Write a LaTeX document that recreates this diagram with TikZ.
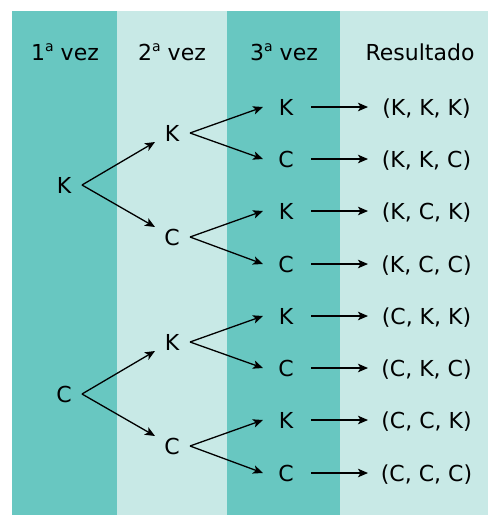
\documentclass[tikz,border=0pt]{standalone}
\usepackage{fontspec}
\setmainfont{DejaVu Sans}
\usetikzlibrary{arrows.meta,calc}
\definecolor{darkteal}{HTML}{68C7C1}
\definecolor{lightteal}{HTML}{C8E9E6}
\newcommand{\ordA}{\raisebox{8.4pt}{\fontsize{14}{14}\selectfont a}}
\begin{document}
\begin{tikzpicture}[x=1pt,y=-1pt,
  lbl/.style={inner sep=0pt,font=\fontsize{22}{26}\selectfont,text height=16pt,text depth=0pt},
  arr/.style={-{Stealth[length=10pt,width=8.5pt,inset=2.5pt]},line width=1.3pt}]
\useasboundingbox (0,0) rectangle (488,515);
\fill[darkteal] (12,11) rectangle (117,515);
\fill[lightteal] (117,11) rectangle (227,515);
\fill[darkteal] (227,11) rectangle (340,515);
\fill[lightteal] (340,11) rectangle (488,515);
% headers
\node[lbl] (h1) at (65,52) {1\ordA{} vez};
\node[lbl] (h2) at (172,52) {2\ordA{} vez};
\node[lbl] (h3) at (284,52) {3\ordA{} vez};
\node[lbl] (h4) at (420,52) {Resultado};
% level 1
\node[lbl] (a1) at (64,185) {K};
\node[lbl] (a2) at (64,394) {C};
% level 2
\node[lbl] (b1) at (172,133) {K};
\node[lbl] (b2) at (172,237) {C};
\node[lbl] (b3) at (172,342) {K};
\node[lbl] (b4) at (172,446) {C};
% level 3 and results
\foreach \i/\y/\t/\r in {1/107/K/{(K, K, K)},2/159/C/{(K, K, C)},3/211/K/{(K, C, K)},4/264/C/{(K, C, C)},5/316/K/{(C, K, K)},6/368/C/{(C, K, C)},7/420/K/{(C, C, K)},8/473/C/{(C, C, C)}}{
  \node[lbl] (c\i) at (286,\y) {\t};
  \node[lbl] (r\i) at (426.5,\y) {\r};
  \draw[arr] ($(c\i.center)+(25,0)$) -- ($(c\i.center)+(82,0)$);
}
% level 1 -> level 2
\draw[arr] ($(a1.center)+(18,0)$) -- ($(b1.center)+(-17,9)$);
\draw[arr] ($(a1.center)+(18,0)$) -- ($(b2.center)+(-17,-10)$);
\draw[arr] ($(a2.center)+(18,0)$) -- ($(b3.center)+(-17,9)$);
\draw[arr] ($(a2.center)+(18,0)$) -- ($(b4.center)+(-17,-10)$);
% level 2 -> level 3
\draw[arr] ($(b1.center)+(18,0)$) -- ($(c1.center)+(-23,0)$);
\draw[arr] ($(b1.center)+(18,0)$) -- ($(c2.center)+(-23,0)$);
\draw[arr] ($(b2.center)+(18,0)$) -- ($(c3.center)+(-23,0)$);
\draw[arr] ($(b2.center)+(18,0)$) -- ($(c4.center)+(-23,0)$);
\draw[arr] ($(b3.center)+(18,0)$) -- ($(c5.center)+(-23,0)$);
\draw[arr] ($(b3.center)+(18,0)$) -- ($(c6.center)+(-23,0)$);
\draw[arr] ($(b4.center)+(18,0)$) -- ($(c7.center)+(-23,0)$);
\draw[arr] ($(b4.center)+(18,0)$) -- ($(c8.center)+(-23,0)$);
\end{tikzpicture}
\end{document}
